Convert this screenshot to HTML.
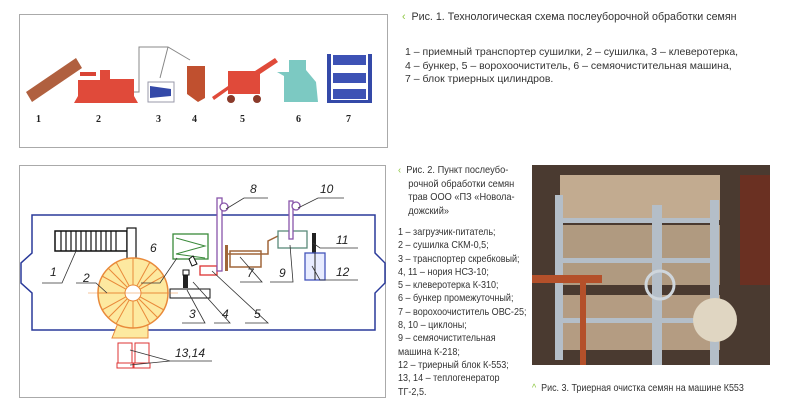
<!DOCTYPE html>
<html><head><meta charset="utf-8"><style>
body{margin:0;width:787px;height:416px;background:#fff;overflow:hidden;position:relative;font-family:"Liberation Sans","DejaVu Sans",sans-serif;}
.t{position:absolute;color:#333;font-size:10.5px;line-height:13.5px;transform-origin:0 0;white-space:nowrap;}
.g{color:#8cc63f;}
</style></head><body>
<svg width="787" height="416" style="position:absolute;left:0;top:0">
<rect x="19.5" y="14.5" width="368" height="133" fill="#fff" stroke="#aaa"/>
<polygon points="26,92 76,58 82,68 32,102" fill="#b0603f"/>
<rect x="80" y="72" width="16" height="4" fill="#d94435"/>
<polygon points="78,80 100,80 100,70 110,70 110,79 134,79 134,96 138,103 74,103 78,96" fill="#e04a3a"/>
<polyline points="134,92 139,92 139,47 168,47 190,60" fill="none" stroke="#888"/>
<line x1="168" y1="47" x2="160" y2="78" stroke="#888"/>
<rect x="148" y="82" width="26" height="20" fill="#fff" stroke="#99a"/>
<polygon points="150,86 171,89 171,96 150,98" fill="#3449a8"/>
<polygon points="187,66 205,66 205,98 198,102 187,94" fill="#c0502f"/>
<polygon points="228,71 255,71 275,58 278,62 260,74 260,94 228,94 228,90 214,100 212,97 228,86" fill="#e04a3a"/>
<circle cx="231" cy="99" r="4" fill="#8a3a2a"/><circle cx="257" cy="99" r="4" fill="#8a3a2a"/>
<polygon points="289,60 306,60 306,70 316,82 318,102 284,102 284,76 277,72 289,72" fill="#7cc9c2"/>
<rect x="327" y="54" width="4" height="49" fill="#3449a8"/><rect x="368" y="54" width="4" height="49" fill="#3449a8"/>
<rect x="327" y="100" width="45" height="3" fill="#3449a8"/>
<rect x="333" y="55" width="33" height="10" fill="#3d52b5"/><rect x="333" y="73" width="33" height="10" fill="#3d52b5"/><rect x="333" y="89" width="33" height="10" fill="#3d52b5"/>
<g font-family="Liberation Serif" font-weight="bold" font-size="10" fill="#222">
<text x="36" y="122">1</text><text x="96" y="122">2</text><text x="156" y="122">3</text><text x="192" y="122">4</text><text x="240" y="122">5</text><text x="296" y="122">6</text><text x="346" y="122">7</text></g>
<rect x="19.5" y="165.5" width="366" height="232" fill="#fff" stroke="#aaa"/>
<polygon points="32,215 375,215 375,253 385,263 385,283 375,293 375,330 32,330 32,293 21,283 21,263 32,253" fill="none" stroke="#2a3a9a" stroke-width="1.5"/>
<rect x="55" y="231" width="72" height="20" fill="#fff" stroke="#111" stroke-width="1.5"/>
<g stroke="#111" stroke-width="1.2"><line x1="61" y1="231" x2="61" y2="251"/><line x1="66" y1="231" x2="66" y2="251"/><line x1="71" y1="231" x2="71" y2="251"/><line x1="76" y1="231" x2="76" y2="251"/><line x1="81" y1="231" x2="81" y2="251"/><line x1="86" y1="231" x2="86" y2="251"/><line x1="91" y1="231" x2="91" y2="251"/><line x1="96" y1="231" x2="96" y2="251"/><line x1="101" y1="231" x2="101" y2="251"/><line x1="106" y1="231" x2="106" y2="251"/><line x1="111" y1="231" x2="111" y2="251"/><line x1="116" y1="231" x2="116" y2="251"/></g>
<rect x="127" y="228" width="9" height="47" fill="#fff" stroke="#111" stroke-width="1.2"/>
<rect x="170" y="289" width="40" height="9" fill="#fff" stroke="#111"/>
<path d="M118,323 L112,338 L148,338 L148,323 Z" fill="#fde9a0" stroke="#e98a3a"/>
<circle cx="133" cy="293" r="35" fill="#fde9a0" stroke="#e98a3a" stroke-width="1.5"/>
<g stroke="#e98a3a" stroke-width="1"><line x1="133" y1="258" x2="133" y2="328"/><line x1="98" y1="293" x2="168" y2="293"/><line x1="108" y1="268" x2="158" y2="318"/><line x1="158" y1="268" x2="108" y2="318"/><line x1="116" y1="262" x2="150" y2="324"/><line x1="150" y1="262" x2="116" y2="324"/><line x1="102" y1="276" x2="164" y2="310"/><line x1="164" y1="276" x2="102" y2="310"/></g>
<circle cx="133" cy="293" r="8" fill="#fff" stroke="#e98a3a"/>
<line x1="88" y1="293" x2="178" y2="293" stroke="#e98a3a" stroke-width=".6"/>
<rect x="118" y="343" width="14" height="20" fill="#fff" stroke="#d33"/><rect x="135" y="343" width="14" height="20" fill="#fff" stroke="#d33"/>
<rect x="117" y="363" width="16" height="5" fill="#fff" stroke="#d33"/><rect x="134" y="363" width="16" height="5" fill="#fff" stroke="#d33"/>
<rect x="173" y="234" width="35" height="25" fill="#fff" stroke="#3a8a3a" stroke-width="1.3"/>
<polyline points="176,238 205,246 176,254 205,258" fill="none" stroke="#3a8a3a"/>
<rect x="183" y="271" width="5" height="17" fill="#222"/><rect x="183" y="270" width="6" height="5" fill="#fff" stroke="#111"/>
<polygon points="189,259 193,256 197,264 192,266" fill="#fff" stroke="#111"/>
<rect x="200" y="266" width="17" height="9" fill="#fff" stroke="#d33" stroke-width="1.3"/>
<rect x="217" y="198" width="5" height="73" fill="#fff" stroke="#8855aa" stroke-width="1.3"/>
<circle cx="224" cy="207" r="4" fill="#fff" stroke="#8855aa" stroke-width="1.3"/>
<rect x="225" y="245" width="3" height="26" fill="#a0663a"/>
<polyline points="228,254 268,254 268,241 278,236" fill="none" stroke="#a0663a" stroke-width="1.5"/>
<rect x="230" y="251" width="31" height="16" fill="none" stroke="#a0663a" stroke-width="1.5"/>
<rect x="278" y="231" width="29" height="17" fill="#fff" stroke="#5a8a7a" stroke-width="1.3"/>
<rect x="289" y="201" width="4" height="38" fill="#fff" stroke="#8855aa" stroke-width="1.3"/>
<circle cx="296" cy="206" r="4" fill="#fff" stroke="#8855aa" stroke-width="1.3"/>
<rect x="312" y="233" width="4" height="20" fill="#222"/>
<rect x="305" y="253" width="20" height="27" fill="#e8ecff" stroke="#4455bb" stroke-width="1.3"/>
<line x1="315" y1="253" x2="315" y2="280" stroke="#222"/>
<g stroke="#333" stroke-width=".8" fill="none">
<polyline points="42,283 62,283 76,251"/><polyline points="76,283 96,283 107,293"/>
<polyline points="141,283 160,283 177,258"/><polyline points="182,323 205,323 187,290"/><polyline points="214,323 230,323 193,282"/>
<polyline points="245,323 268,323 212,271"/><polyline points="240,282 262,282 240,257"/><polyline points="270,282 293,282 290,245"/>
<polyline points="226,209 244,198 268,198"/><polyline points="298,208 318,198 344,198"/><polyline points="313,243 320,248 358,248"/><polyline points="312,266 320,280 358,280"/>
<polyline points="130,350 170,361 212,361"/><line x1="130" y1="365" x2="170" y2="361"/>
</g>
<g font-family="Liberation Sans" font-style="italic" font-size="12" fill="#222">
<text x="50" y="276">1</text><text x="83" y="282">2</text><text x="189" y="318">3</text><text x="222" y="318">4</text><text x="254" y="318">5</text><text x="150" y="252">6</text><text x="247" y="277">7</text><text x="250" y="193">8</text><text x="279" y="277">9</text><text x="320" y="193">10</text><text x="336" y="244">11</text><text x="336" y="276">12</text><text x="175" y="357">13,14</text></g>
<rect x="532" y="165" width="238" height="200" fill="#4a3a30"/>
<rect x="560" y="175" width="160" height="45" fill="#c2ab90"/>
<rect x="560" y="225" width="160" height="60" fill="#b09a80"/>
<rect x="560" y="295" width="160" height="55" fill="#b49c82"/>
<rect x="555" y="195" width="8" height="165" fill="#b4bec8"/><rect x="652" y="205" width="10" height="160" fill="#b4bec8"/><rect x="710" y="200" width="9" height="165" fill="#b4bec8"/>
<rect x="555" y="218" width="160" height="5" fill="#b4bec8"/><rect x="555" y="258" width="160" height="5" fill="#b4bec8"/><rect x="555" y="318" width="160" height="5" fill="#b4bec8"/>
<rect x="532" y="275" width="70" height="8" fill="#b4502a"/><rect x="580" y="280" width="6" height="85" fill="#b4502a"/>
<circle cx="715" cy="320" r="22" fill="#e0d6c2"/><rect x="740" y="175" width="30" height="110" fill="#6a3022"/>
<circle cx="660" cy="285" r="14" fill="none" stroke="#cfd6dc" stroke-width="3"/>
</svg>
<div class="t" style="left:402px;top:11px;font-size:11px;transform:scaleX(.97)"><span class="g">‹</span>&nbsp; Рис. 1. Технологическая схема послеуборочной обработки семян</div>
<div class="t" style="left:405px;top:46px;">1 – приемный транспортер сушилки, 2 – сушилка, 3 – клеверотерка,<br>4 – бункер, 5 – ворохоочиститель, 6 – семяочистительная машина,<br>7 – блок триерных цилиндров.</div>
<div class="t" style="left:398px;top:164px;transform:scaleX(.88)"><span class="g">‹</span>&nbsp; Рис. 2. Пункт послеубо-<br>&nbsp;&nbsp;&nbsp;&nbsp;рочной обработки семян<br>&nbsp;&nbsp;&nbsp;&nbsp;трав ООО «ПЗ «Новола-<br>&nbsp;&nbsp;&nbsp;&nbsp;дожский»</div>
<div class="t" style="left:398px;top:226px;line-height:13.3px;transform:scaleX(.86)">1 – загрузчик-питатель;<br>2 – сушилка СКМ-0,5;<br>3 – транспортер скребковый;<br>4, 11 – нория НСЗ-10;<br>5 – клеверотерка К-310;<br>6 – бункер промежуточный;<br>7 – ворохоочиститель ОВС-25;<br>8, 10 – циклоны;<br>9 – семяочистительная<br>машина К-218;<br>12 – триерный блок К-553;<br>13, 14 – теплогенератор<br>ТГ-2,5.</div>
<div class="t" style="left:532px;top:382px;transform:scaleX(.85)"><span class="g">^</span>&nbsp; Рис. 3. Триерная очистка семян на машине К553</div>
</body></html>
